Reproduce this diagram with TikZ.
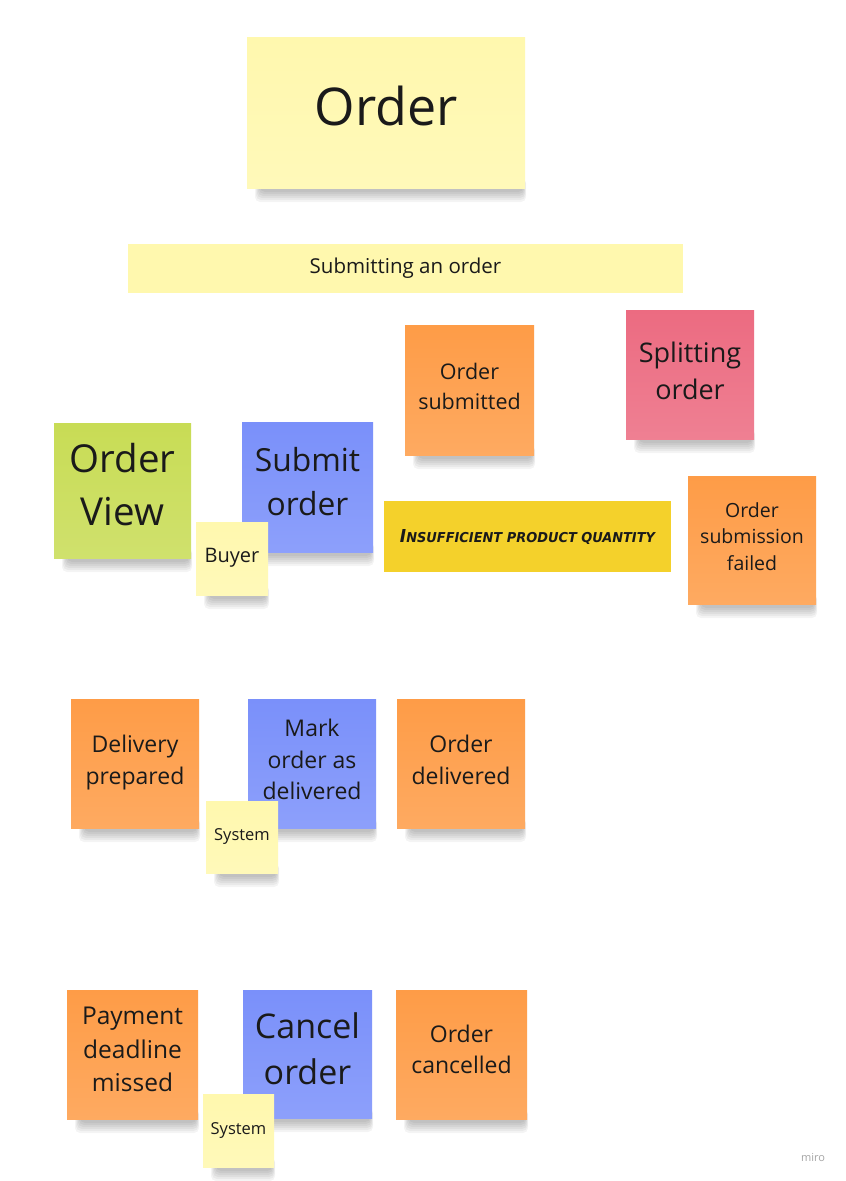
\documentclass[tikz,border=0pt]{standalone}
\usepackage{fontspec}
\setmainfont{Open Sans}
\newfontfamily\handfont{DejaVu Sans}
\usepackage{graphicx}
\definecolor{lyel}{HTML}{FFF8AE}
\definecolor{orng}{HTML}{FE9C47}
\definecolor{pnk}{HTML}{EC6B81}
\definecolor{grn}{HTML}{C8DC55}
\definecolor{blu}{HTML}{7A90FA}
\definecolor{ybar}{HTML}{F4D12B}
\definecolor{ink}{HTML}{1A1A1A}
\tikzset{
  sticky/.style={inner sep=0pt, align=center, text=ink},
}
\newcommand\shd[4]{%
  \foreach \k in {1,...,6}{%
    \fill[black,opacity=0.045,rounded corners=5pt] ({#1+14-\k},{#4-10}) rectangle ({#3-2+\k*0.5},{#4+2+\k*2});
  }}
% name, x1, y1, x2, y2, colour, font size, text, text lift
\newcommand\stickynote[9]{%
  \shd{#2}{#3}{#4}{#5}%
  \fill[top color=#6, bottom color=#6!86!white] (#2,#3) rectangle (#4,#5);
  \node[sticky, minimum width={(#4-#2)*1pt}, minimum height={(#5-#3)*1pt},
        font={\fontsize{#7pt}{\fpeval{#7*1.36}pt}\selectfont}]
        (#1) at ({(#2+#4)/2},{(#3+#5)/2-#9}) {#8};}
\begin{document}
\begin{tikzpicture}[x=1pt,y=-1pt]
\fill[white] (0,0) rectangle (846,1181);
\useasboundingbox (0,0) rectangle (846,1181);

\stickynote{title}{247}{37}{525}{188}{lyel}{52}{Order}{7}

\node[sticky, fill=lyel, minimum width=555pt, minimum height=49pt,
      font={\fontsize{20.5pt}{28pt}\selectfont}] (bar) at (405.5,268.5) {Submitting an order};

\stickynote{osub}{405}{325}{534}{455}{orng}{21.5}{Order\\submitted}{3.5}
\stickynote{split}{626}{310}{754}{439}{pnk}{27}{Splitting\\order}{3.5}
\stickynote{oview}{54}{423}{191}{558}{grn}{38.5}{Order\\View}{6}
\stickynote{submit}{242}{422}{373}{552}{blu}{31.8}{Submit\\order}{5.5}
\stickynote{buyer}{196}{522}{268}{595}{lyel}{20}{Buyer}{1}

\node[sticky, fill=ybar, minimum width=287pt, minimum height=71pt] (insuf) at (527.5,536.5)
  {\resizebox{255pt}{13pt}{\handfont\bfseries\itshape\fontsize{17pt}{17pt}\selectfont I\fontsize{13pt}{13pt}\selectfont NSUFFICIENT PRODUCT QUANTITY}};

\stickynote{osf}{688}{476}{816}{604}{orng}{19.5}{Order\\submission\\failed}{3.5}

\stickynote{dprep}{71}{699}{199}{828}{orng}{23}{Delivery\\prepared}{1}
\stickynote{mark}{248}{699}{376}{828}{blu}{23}{Mark\\order as\\delivered}{4}
\stickynote{sysa}{206}{801}{278}{873}{lyel}{16.5}{System}{1}
\stickynote{odel}{397}{699}{525}{828}{orng}{23}{Order\\delivered}{3.5}

\stickynote{pay}{67}{990}{198}{1119}{orng}{24.5}{Payment\\deadline\\missed}{5}
\stickynote{cancel}{243}{990}{372}{1118}{blu}{34}{Cancel\\order}{5.5}
\stickynote{sysb}{203}{1094}{274}{1167}{lyel}{16.5}{System}{0}
\stickynote{ocan}{396}{990}{527}{1119}{orng}{23}{Order\\cancelled}{5}

\node[text=black!35, font={\fontsize{11pt}{13pt}\selectfont}] (miro) at (813,1158) {miro};
\end{tikzpicture}
\end{document}
